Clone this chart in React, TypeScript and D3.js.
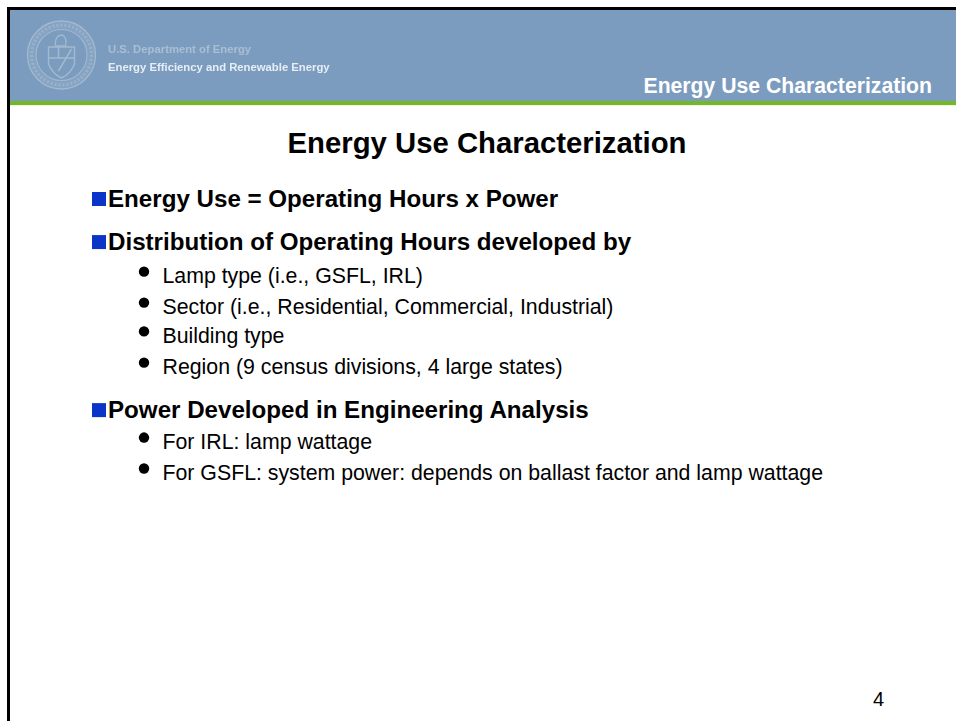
import React from "react";
import * as d3 from "d3";

const width = 956, height = 721;

const slideTitle = "Energy Use Characterization";
const agencyLines = ["U.S. Department of Energy", "Energy Efficiency and Renewable Energy"];
const pageNumber = "4";

// level 0 = bold heading with square, level 1 = round bullet
const bulletTexts = [
  "Energy Use = Operating Hours x Power",
  "Distribution of Operating Hours developed by",
  "Lamp type (i.e., GSFL, IRL)",
  "Sector (i.e., Residential, Commercial, Industrial)",
  "Building type",
  "Region (9 census divisions, 4 large states)",
  "Power Developed in Engineering Analysis",
  "For IRL: lamp wattage",
  "For GSFL: system power: depends on ballast factor and lamp wattage",
];
const bulletLevels = [0, 0, 1, 1, 1, 1, 0, 1, 1];
const bulletRows = [0, 1.42, 2.51, 3.53, 4.48, 5.51, 6.96, 7.98, 9];

const font = "Arial, 'Liberation Sans', sans-serif";

const App = () => {
  // rows of the text block, in line units
  const y = d3.scaleLinear().domain([0, 9]).range([207, 480]);

  const seal = d3.arc();
  const ring = seal({ innerRadius: 26, outerRadius: 34, startAngle: 0, endAngle: Math.PI * 2 }) as string;

  return (
    <svg
      width={width}
      height={height}
      viewBox={`0 0 ${width} ${height}`}
      style={{ position: "absolute", left: 0, top: 0, display: "block", background: "#fff" }}
      fontFamily={font}
    >
      <defs>
        <filter id="soft" x="-5%" y="-5%" width="110%" height="110%">
          <feGaussianBlur stdDeviation="0.7" />
        </filter>
      </defs>

      {/* header band */}
      <rect x={9} y={10} width={width - 9} height={91} fill="#7b9cbf" />
      <rect x={9} y={101} width={width - 9} height={4} fill="#74b82a" />
      <rect x={9} y={105} width={width - 9} height={1} fill="#eef6e0" />

      {/* frame */}
      <rect x={7} y={7} width={width - 7} height={3} fill="#000" />
      <rect x={7} y={7} width={3} height={height - 7} fill="#000" />

      {/* seal */}
      <g transform="translate(61.5,55)" filter="url(#soft)" fill="none" stroke="#a3b9d0">
        <path d={ring} fill="#8ea9c7" fillOpacity={0.6} stroke="none" />
        <circle r={34} strokeWidth={1.3} />
        <circle r={30} strokeWidth={3} strokeDasharray="2 2" opacity={0.7} />
        <circle r={25.5} strokeWidth={1.1} />
        <path d="M-13,-8 L13,-8 L13,9 Q9,19 0,23 Q-9,19 -13,9 Z" strokeWidth={1.4} />
        <path d="M-13,3 L13,3 M-3,-8 L-3,3 M10,-6 L-3,16" strokeWidth={1.5} />
        <path d="M-6,-9 Q-7,-20 1,-20 Q6,-17 4,-9 Z" strokeWidth={1.3} />
      </g>

      {/* agency name */}
      <g filter="url(#soft)">
        <text x={108} y={53} fontSize={11.3} fontWeight={700} fill="#a9bdd3">{agencyLines[0]}</text>
        <text x={108} y={71} fontSize={11.3} fontWeight={700} fill="#e6edf4">{agencyLines[1]}</text>
      </g>

      <text x={932} y={93} textAnchor="end" fontSize={21.2} fontWeight={700} fill="#fff">{slideTitle}</text>

      <text x={487} y={153} textAnchor="middle" fontSize={29.3} fontWeight={700} fill="#000">{slideTitle}</text>

      {bulletTexts.map((t, i) => {
        const rowY = y(bulletRows[i]);
        return bulletLevels[i] === 0 ? (
          <g key={t}>
            <rect x={92} y={rowY - 15} width={14} height={14} fill="#0b35c8" />
            <text x={108} y={rowY} fontSize={24.15} fontWeight={700} fill="#000">{t}</text>
          </g>
        ) : (
          <g key={t}>
            <circle cx={144} cy={rowY - 11.5} r={5.2} fill="#000" />
            <text x={162.5} y={rowY} fontSize={21.3} fill="#000">{t}</text>
          </g>
        );
      })}

      <text x={878.5} y={706} textAnchor="middle" fontSize={20} fill="#000">{pageNumber}</text>
    </svg>
  );
};

export default App;
